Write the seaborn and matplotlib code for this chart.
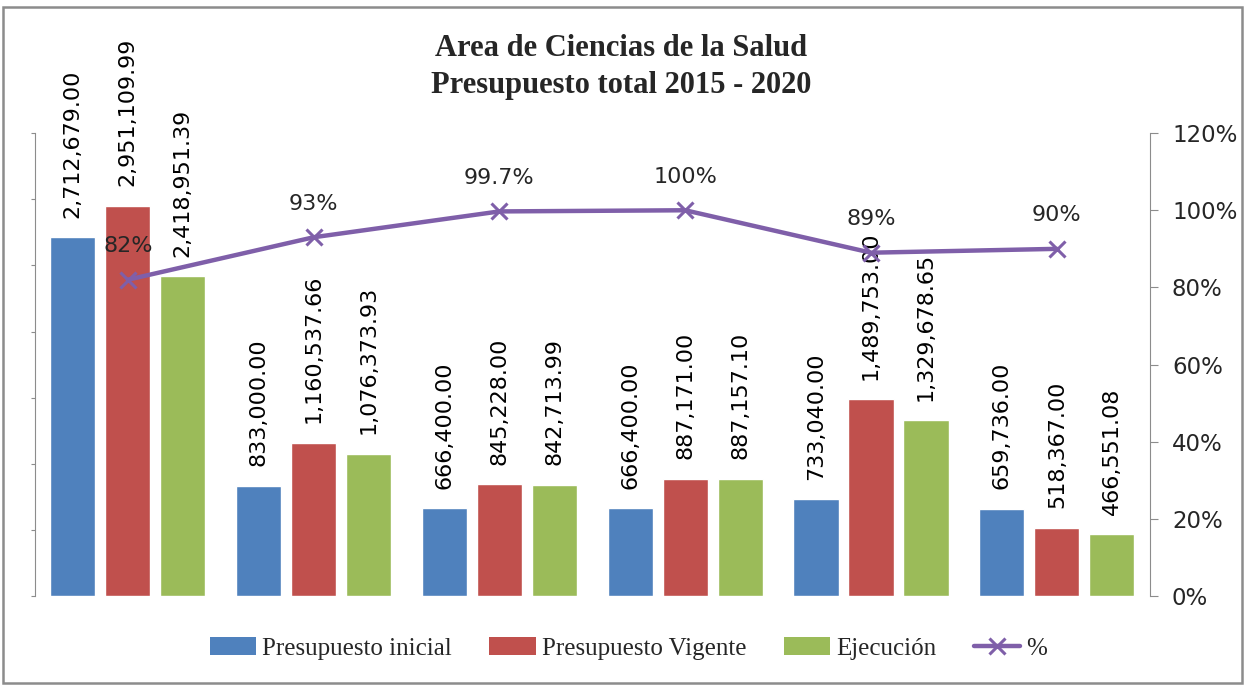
import pandas as pd
import matplotlib
matplotlib.use("Agg")
import matplotlib.pyplot as plt
import seaborn as sns
from matplotlib.ticker import PercentFormatter, MultipleLocator, NullFormatter
from matplotlib.patches import Patch
from matplotlib.lines import Line2D

# data
years = ["2015", "2016", "2017", "2018", "2019", "2020"]
series = ["Presupuesto inicial", "Presupuesto Vigente", "Ejecución"]
inicial = [2712679.00, 833000.00, 666400.00, 666400.00, 733040.00, 659736.00]
vigente = [2951109.99, 1160537.66, 845228.00, 887171.00, 1489753.00, 518367.00]
ejecucion = [2418951.39, 1076373.93, 842713.99, 887157.10, 1329678.65, 466551.08]
pct = [0.82, 0.93, 0.997, 1.00, 0.89, 0.90]
pct_labels = ["82%", "93%", "99.7%", "100%", "89%", "90%"]

colors = ["#4F81BD", "#C0504D", "#9BBB59"]
purple = "#7F5FA9"
grey = "#8C8C8C"

sns.set_style("white")
plt.rcParams["font.family"] = ["DejaVu Sans"]

df = pd.DataFrame({
    "year": years * 3,
    "serie": [series[0]] * 6 + [series[1]] * 6 + [series[2]] * 6,
    "valor": inicial + vigente + ejecucion,
})

fig = plt.figure(figsize=(12.47, 6.86), dpi=100)
ax = fig.add_axes([0.028, 0.131, 0.894, 0.675])

sns.barplot(data=df, x="year", y="valor", hue="serie", order=years,
            hue_order=series, palette=colors, width=0.888, gap=0.18,
            saturation=1, errorbar=None, legend=False, ax=ax)

values = [inicial, vigente, ejecucion]
for cont, vals in zip(ax.containers, values):
    ax.bar_label(cont, labels=[f"{v:,.2f}" for v in vals], rotation=90,
                 padding=14, fontsize=16, color="black")

ax.set_ylim(0, 3500000)
ax.yaxis.set_major_locator(MultipleLocator(500000))
ax.yaxis.set_major_formatter(NullFormatter())
ax.set_xlabel("")
ax.set_ylabel("")
ax.set_xticks([])
for s in ["top", "right", "bottom"]:
    ax.spines[s].set_visible(False)
ax.spines["left"].set_color(grey)
ax.tick_params(axis="y", left=True, length=3, color=grey)

ax2 = ax.twinx()
sns.pointplot(x=years, y=pct, ax=ax2, color=purple, markers="x",
              linestyles="-", linewidth=3.2, markersize=11,
              markeredgewidth=2.2, errorbar=None)
for i, lab in enumerate(pct_labels):
    ax2.annotate(lab, (i, pct[i]), xytext=(0, 17), textcoords="offset points",
                 ha="center", va="bottom", fontsize=16)
ax2.set_ylim(0, 1.2)
ax2.yaxis.set_major_locator(MultipleLocator(0.2))
ax2.yaxis.set_major_formatter(PercentFormatter(1.0, decimals=0))
ax2.set_xlim(-0.5, 5.5)
ax2.set_xticks([])
ax2.set_xlabel("")
ax2.set_ylabel("")
for s in ["top", "left", "bottom"]:
    ax2.spines[s].set_visible(False)
ax2.spines["right"].set_color(grey)
ax2.tick_params(axis="y", right=True, length=6, color=grey, labelsize=16.5, pad=10)
ax.set_xlim(-0.5, 5.5)

fig.text(0.498, 1 - 67 / 686, "Area de Ciencias de la Salud\nPresupuesto total 2015 - 2020",
         ha="center", va="center", fontsize=22, fontweight="bold",
         family="Liberation Serif", linespacing=1.38)

handles = [Patch(facecolor=c, edgecolor="none") for c in colors]
handles.append(Line2D([], [], color=purple, lw=3.2, marker="x", markersize=11,
                      markeredgewidth=2.2))
fig.legend(handles, series + ["%"], loc="center", bbox_to_anchor=(0.504, 0.055),
           ncol=4, frameon=False, handlelength=1.85, handleheight=0.7,
           handletextpad=0.25, columnspacing=1.5,
           prop={"family": "Liberation Serif", "size": 18})

fig.add_artist(plt.Rectangle((0.0025, 0.004), 0.9935, 0.986, transform=fig.transFigure,
                             fill=False, edgecolor=grey, lw=1.8))

fig.savefig("out.png", dpi=100)
